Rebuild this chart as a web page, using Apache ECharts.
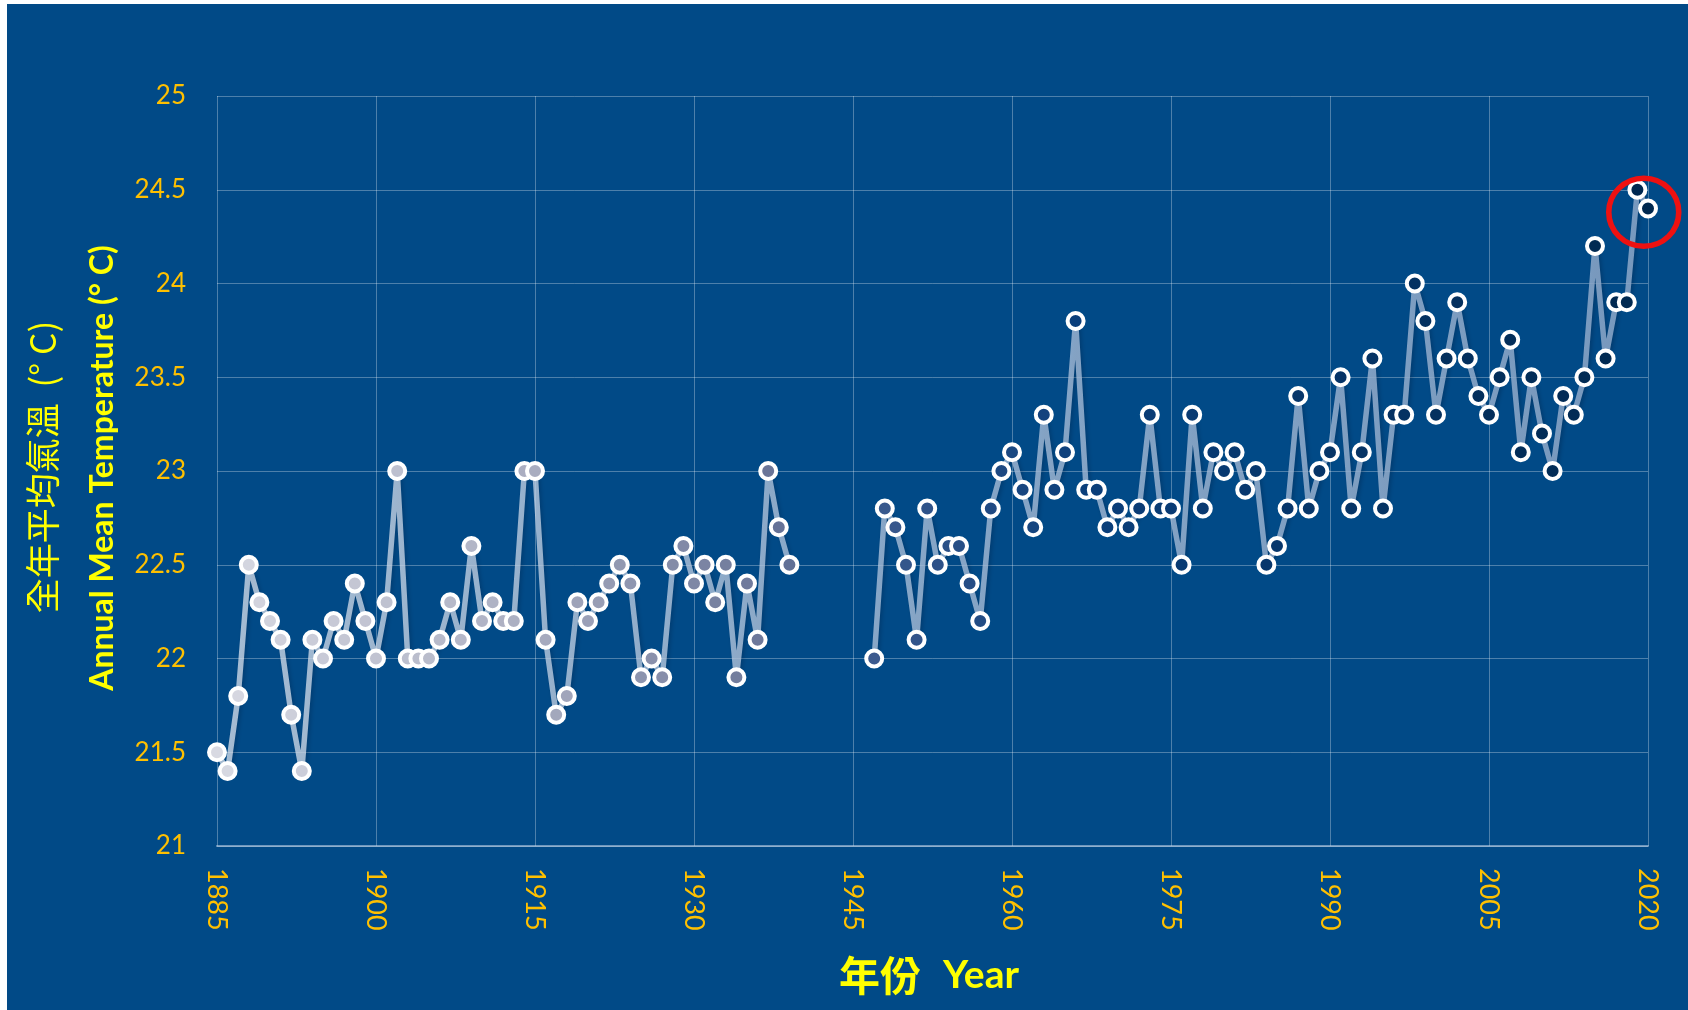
<!DOCTYPE html>
<html>
<head>
<meta charset="utf-8">
<script src="https://cdn.jsdelivr.net/npm/echarts@6/dist/echarts.min.js"></script>
<style>
html,body{margin:0;padding:0;background:#ffffff;}
#chart{width:1688px;height:1010px;}
</style>
</head>
<body>
<div id="chart"></div>
<script>
// ---- data ----
const startYear1 = 1885;
const values1 = [21.5,21.4,21.8,22.5,22.3,22.2,22.1,21.7,21.4,22.1,
  22.0,22.2,22.1,22.4,22.2,22.0,22.3,23.0,22.0,22.0,
  22.0,22.1,22.3,22.1,22.6,22.2,22.3,22.2,22.2,23.0,
  23.0,22.1,21.7,21.8,22.3,22.2,22.3,22.4,22.5,22.4,
  21.9,22.0,21.9,22.5,22.6,22.4,22.5,22.3,22.5,21.9,
  22.4,22.1,23.0,22.7,22.5];
const gapYears = [1940,1941,1942,1943,1944,1945,1946];
const startYear2 = 1947;
const values2 = [22.0,22.8,22.7,22.5,22.1,22.8,22.5,22.6,22.6,22.4,
  22.2,22.8,23.0,23.1,22.9,22.7,23.3,22.9,23.1,23.8,
  22.9,22.9,22.7,22.8,22.7,22.8,23.3,22.8,22.8,22.5,
  23.3,22.8,23.1,23.0,23.1,22.9,23.0,22.5,22.6,22.8,
  23.4,22.8,23.0,23.1,23.5,22.8,23.1,23.6,22.8,23.3,
  23.3,24.0,23.8,23.3,23.6,23.9,23.6,23.4,23.3,23.5,
  23.7,23.1,23.5,23.2,23.0,23.4,23.3,23.5,24.2,23.6,
  23.9,23.9,24.5,24.4];
const xMin = 1885, xMax = 2020, xStep = 15;
const yMin = 21, yMax = 25, yStep = 0.5;
const highlightYear = 2019.6, highlightValue = 24.38;

// ---- styling helpers ----
const fillStops = [[1885,[216,217,226]],[1915,[169,173,192]],[1937,[106,117,152]],
                   [1947,[60,90,142]],[1966,[11,63,123]],[2020,[0,40,79]]];
function fillFor(year){
  for(let i=0;i<fillStops.length-1;i++){
    const a=fillStops[i], b=fillStops[i+1];
    if(year<=b[0]){
      const t=Math.max(0,(year-a[0])/(b[0]-a[0]));
      const c=a[1].map((v,k)=>Math.round(v+(b[1][k]-v)*t));
      return 'rgb('+c.join(',')+')';
    }
  }
  return 'rgb('+fillStops[fillStops.length-1][1].join(',')+')';
}

const data = [];
values1.forEach((v,i)=>{const y=startYear1+i; data.push({value:[y-xMin,v],itemStyle:{color:fillFor(y)}});});
gapYears.forEach(y=>data.push({value:[y-xMin,'-']}));
values2.forEach((v,i)=>{const y=startYear2+i; data.push({value:[y-xMin,v],itemStyle:{color:fillFor(y)}});});

const gold = '#FFC000', yellow = '#FFFF00';
const chart = echarts.init(document.getElementById('chart'));
chart.setOption({
  backgroundColor:'#ffffff',
  animation:false,
  graphic:[
    {type:'rect', z:-10, silent:true, shape:{x:7,y:4,width:1681,height:1006}, style:{fill:'#014a87'}},
    {type:'text', z:10, x:43, y:467, rotation:Math.PI/2,
      style:{text:'全年平均氣溫  (° C)', fill:yellow, font:'35px "Noto Sans CJK TC", Lato, sans-serif', textAlign:'center', textVerticalAlign:'middle'}},
    {type:'text', z:10, x:103, y:468, rotation:Math.PI/2,
      style:{text:'Annual Mean Temperature (° C)', fill:yellow, font:'bold 32px Lato, "Noto Sans", sans-serif', textAlign:'center', textVerticalAlign:'middle'}},
    {type:'text', z:10, x:929, y:975,
      style:{text:'{a|年份}{s| }{b|Year}', textAlign:'center', textVerticalAlign:'middle',
        rich:{a:{fill:yellow, fontSize:41, fontFamily:'"Noto Sans CJK TC", sans-serif', fontWeight:'bold'},
              s:{fontSize:41, width:22},
              b:{fill:yellow, fontSize:39, fontFamily:'Lato, sans-serif', fontWeight:'bold'}}}}
  ],
  grid:{left:217, right:40, top:96, bottom:164, containLabel:false},
  xAxis:{
    type:'value', min:0, max:xMax-xMin, interval:xStep,
    axisLine:{show:true, lineStyle:{color:'rgba(200,215,235,0.55)', width:2}},
    axisTick:{show:false},
    splitLine:{show:true, lineStyle:{color:'rgba(255,255,255,0.3)', width:1}},
    axisLabel:{rotate:-90, margin:22, color:gold, fontSize:27, fontFamily:'Lato, sans-serif',
      formatter:v=>String(v+xMin)}
  },
  yAxis:{
    type:'value', min:yMin, max:yMax, interval:yStep,
    axisLine:{show:false}, axisTick:{show:false},
    splitLine:{show:true, lineStyle:{color:'rgba(255,255,255,0.3)', width:1}},
    axisLabel:{margin:31, color:gold, fontSize:26, fontFamily:'Lato, sans-serif'}
  },
  series:[{
    type:'line',
    data:data,
    connectNulls:false,
    symbol:'circle',
    symbolSize:16,
    itemStyle:{borderColor:'#ffffff', borderWidth:4},
    lineStyle:{width:5.5,
      color:{type:'linear', x:0, y:0, x2:1, y2:0, colorStops:[
        {offset:0, color:'rgba(228,234,244,0.72)'},
        {offset:0.45, color:'rgba(180,200,225,0.75)'},
        {offset:1, color:'rgba(140,168,202,0.85)'}]},
      shadowColor:'rgba(0,20,50,0.35)', shadowBlur:4, shadowOffsetX:2, shadowOffsetY:2},
    emphasis:{disabled:true},
    markPoint:{
      silent:true,
      symbol:'circle', symbolSize:[70,68],
      itemStyle:{color:'rgba(0,0,0,0)', borderColor:'#ee1111', borderWidth:5.5},
      label:{show:false},
      data:[{coord:[highlightYear-xMin, highlightValue]}]
    }
  }]
});
</script>
</body>
</html>
